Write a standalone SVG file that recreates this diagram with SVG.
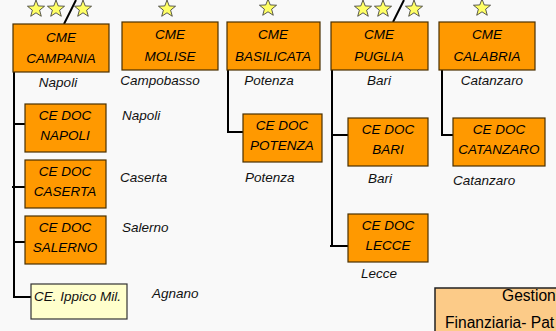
<svg xmlns="http://www.w3.org/2000/svg" width="556" height="331" viewBox="0 0 556 331">
<defs>
<style>
.bg{fill:#f9f9f9}
.box{fill:#ff9900;stroke:#4a3000;stroke-width:1.2}
.pale{fill:#ffffcc;stroke:#333;stroke-width:1.2}
.peach{fill:#fccb88;stroke:#222;stroke-width:1.5}
.t{font-family:"Liberation Sans",Arial,sans-serif;font-size:13.5px;font-style:italic;fill:#000;text-anchor:middle}
.c{font-family:"Liberation Sans",Arial,sans-serif;font-size:13.5px;font-style:italic;fill:#111}
.r{font-family:"Liberation Sans",Arial,sans-serif;font-size:15.6px;fill:#000}
.ln{stroke:#000;stroke-width:2;fill:none}
.st{fill:#ffff66;stroke:#333;stroke-width:0.8}
</style>
<polygon id="star" class="st" points="0,-9 2.23,-3.07 8.56,-2.78 3.61,1.17 5.29,7.28 0,3.8 -5.29,7.28 -3.61,1.17 -8.56,-2.78 -2.23,-3.07"/>
</defs>
<rect class="bg" x="0" y="0" width="556" height="331"/>

<g id="stars">
<use href="#star" x="36" y="9"/>
<use href="#star" x="56" y="9"/>
<use href="#star" x="83" y="9"/>
<use href="#star" x="167" y="9"/>
<use href="#star" x="268" y="8"/>
<use href="#star" x="363" y="9"/>
<use href="#star" x="383" y="9"/>
<use href="#star" x="414" y="9"/>
<use href="#star" x="482" y="8"/>
</g>

<g id="connectors">
<line class="ln" x1="64" y1="24" x2="76" y2="0"/>
<line class="ln" x1="393" y1="22" x2="404" y2="0"/>
<polyline class="ln" points="14,72 14,297 31,297"/>
<line class="ln" x1="14" y1="124" x2="25" y2="124"/>
<line class="ln" x1="12" y1="187" x2="25" y2="187"/>
<line class="ln" x1="14" y1="242" x2="27" y2="242"/>
<polyline class="ln" points="228,70 228,132 243,132"/>
<polyline class="ln" points="332,70 332,247"/>
<line class="ln" x1="332" y1="135" x2="348" y2="135"/>
<line class="ln" x1="330" y1="246" x2="348" y2="246"/>
<polyline class="ln" points="442,70 442,135 453,135"/>
</g>

<g id="cme-campania">
<rect class="box" x="13" y="24" width="96" height="48"/>
<text class="t" x="61" y="42">CME</text>
<text class="t" x="61" y="63">CAMPANIA</text>
<text class="c" x="58" y="87" text-anchor="middle">Napoli</text>
</g>
<g id="cme-molise">
<rect class="box" x="122" y="22" width="96" height="48"/>
<text class="t" x="170" y="39">CME</text>
<text class="t" x="170" y="61">MOLISE</text>
<text class="c" x="160" y="85" text-anchor="middle">Campobasso</text>
</g>
<g id="cme-basilicata">
<rect class="box" x="227" y="22" width="93" height="48"/>
<text class="t" x="273" y="39">CME</text>
<text class="t" x="273" y="61">BASILICATA</text>
<text class="c" x="269" y="85" text-anchor="middle">Potenza</text>
</g>
<g id="cme-puglia">
<rect class="box" x="331" y="22" width="97" height="48"/>
<text class="t" x="379" y="39">CME</text>
<text class="t" x="379" y="61">PUGLIA</text>
<text class="c" x="379" y="85" text-anchor="middle">Bari</text>
</g>
<g id="cme-calabria">
<rect class="box" x="439" y="22" width="96" height="48"/>
<text class="t" x="487" y="39">CME</text>
<text class="t" x="487" y="61">CALABRIA</text>
<text class="c" x="492" y="85" text-anchor="middle">Catanzaro</text>
</g>

<g id="cedoc-napoli">
<rect class="box" x="25" y="104" width="81" height="48"/>
<text class="t" x="65" y="120">CE DOC</text>
<text class="t" x="65" y="140">NAPOLI</text>
<text class="c" x="122" y="120">Napoli</text>
</g>
<g id="cedoc-caserta">
<rect class="box" x="25" y="160" width="81" height="48"/>
<text class="t" x="65" y="176">CE DOC</text>
<text class="t" x="65" y="196">CASERTA</text>
<text class="c" x="120" y="182">Caserta</text>
</g>
<g id="cedoc-salerno">
<rect class="box" x="25" y="216" width="81" height="48"/>
<text class="t" x="65" y="232">CE DOC</text>
<text class="t" x="65" y="252">SALERNO</text>
<text class="c" x="122" y="232">Salerno</text>
</g>
<g id="ce-ippico">
<rect class="pale" x="31" y="284" width="96" height="35"/>
<text class="c" x="34" y="301" fill="#000">CE. Ippico Mil.</text>
<text class="c" x="152" y="298">Agnano</text>
</g>
<g id="cedoc-potenza">
<rect class="box" x="243" y="114" width="79" height="48"/>
<text class="t" x="282" y="130">CE DOC</text>
<text class="t" x="282" y="150">POTENZA</text>
<text class="c" x="245" y="182">Potenza</text>
</g>
<g id="cedoc-bari">
<rect class="box" x="348" y="118" width="80" height="48"/>
<text class="t" x="388" y="134">CE DOC</text>
<text class="t" x="388" y="154">BARI</text>
<text class="c" x="368" y="183">Bari</text>
</g>
<g id="cedoc-lecce">
<rect class="box" x="348" y="214" width="80" height="48"/>
<text class="t" x="388" y="230">CE DOC</text>
<text class="t" x="388" y="250">LECCE</text>
<text class="c" x="361" y="278">Lecce</text>
</g>
<g id="cedoc-catanzaro">
<rect class="box" x="453" y="118" width="92" height="48"/>
<text class="t" x="499" y="134">CE DOC</text>
<text class="t" x="499" y="154">CATANZARO</text>
<text class="c" x="453" y="185">Catanzaro</text>
</g>
<g id="gestione">
<rect class="peach" x="435" y="288" width="130" height="50"/>
<text class="r" x="502" y="301">Gestion</text>
<text class="r" x="445" y="328">Finanziaria- Pat</text>
</g>
</svg>
